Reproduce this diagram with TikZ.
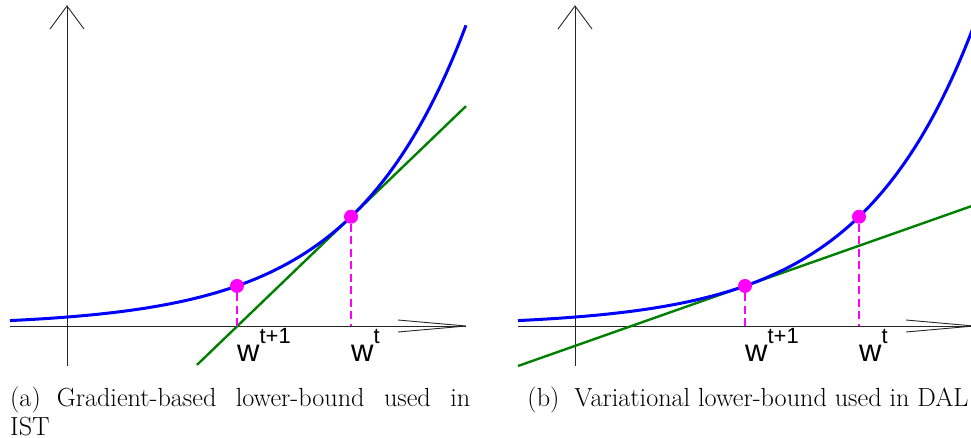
\documentclass[tikz,border=0pt]{standalone}
\usepackage{fontspec}
\newfontfamily\labfont{Liberation Sans}
\definecolor{mag}{RGB}{255,0,255}
\definecolor{dgreen}{RGB}{0,128,0}
\definecolor{cblue}{RGB}{0,0,255}
\newcommand{\wlabel}[1]{\fontsize{31}{31}\selectfont w\raisebox{17.5pt}{\fontsize{22}{22}\selectfont #1}}
\begin{document}
\begin{tikzpicture}[x=1pt,y=-1pt,
  axis/.style={draw=black!85,line width=0.9pt},
  curve/.style={draw=cblue,line width=3pt},
  bound/.style={draw=dgreen,line width=2.4pt},
  dot/.style={circle,fill=mag,inner sep=0pt,minimum size=14pt},
  drop/.style={draw=mag,line width=2.6pt,dash pattern=on 8pt off 4.5pt},
  wlab/.style={font=\labfont,inner sep=0pt,anchor=base west},
  captext/.style={font=\fontsize{26.2}{28.5}\selectfont,inner sep=0pt}]
\useasboundingbox (0,0) rectangle (971,437);
\clip (0,0) rectangle (971,437);
\foreach \s/\tp/\lbl in {0/351/a,508/237/b}{
\begin{scope}[xshift=\s pt]
  % axes
  \coordinate (yb\lbl) at (67,366);
  \coordinate (yt\lbl) at (67,6);
  \coordinate (xl\lbl) at (10,326);
  \coordinate (xr\lbl) at (466,326);
  \coordinate (ya\lbl) at (50,29);
  \coordinate (yc\lbl) at (84,29);
  \coordinate (xa\lbl) at (398,320);
  \coordinate (xc\lbl) at (398,332);
  \draw[axis] (yb\lbl) -- (yt\lbl);
  \draw[axis] (ya\lbl) -- (yt\lbl) -- (yc\lbl);
  \draw[axis] (xl\lbl) -- (xr\lbl);
  \draw[axis] (xa\lbl) -- (xr\lbl) -- (xc\lbl);
  % tangent line at \tp
  \pgfmathsetmacro{\fv}{4.97*exp(0.0088*\tp)}
  \pgfmathsetmacro{\sl}{0.0088*\fv}
  \coordinate (g1\lbl) at (10,{326-\fv+\sl*(\tp-10)});
  \coordinate (g2\lbl) at (466,{326-\fv-\sl*(466-\tp)});
  \coordinate (g3\lbl) at (197,{326-\fv+\sl*(\tp-197)});
  \ifnum\s=0
    \draw[bound] (g3\lbl) -- (g2\lbl);
  \else
    \draw[bound] (g1\lbl) -- (g2\lbl);
  \fi
  % curve
  \draw[curve] plot[domain=10:466,samples=120,smooth] (\x,{326-4.97*exp(0.0088*\x)});
  % points
  \node[dot] (p\lbl) at (237,{326-4.97*exp(0.0088*237)}) {};
  \node[dot] (q\lbl) at (351,{326-4.97*exp(0.0088*351)}) {};
  \coordinate (pb\lbl) at (237,326);
  \coordinate (qb\lbl) at (351,326);
  \draw[drop] (p\lbl.south) -- (pb\lbl);
  \draw[drop] (q\lbl.south) -- (qb\lbl);
  \node[wlab] (lp\lbl) at (237,361) {\wlabel{t+1}};
  \node[wlab] (lq\lbl) at (351,361) {\wlabel{t}};
\end{scope}
}
\node[captext,text width=460pt,align=justify,anchor=base west] (capa) at (10,406.5) {(a)\hspace{16pt}Gradient-based lower-bound used in\linebreak IST};
\node[captext,anchor=base] (capb) at (748,406.5) {(b)\hspace{15pt}Variational lower-bound used in DAL};
\end{tikzpicture}
\end{document}
